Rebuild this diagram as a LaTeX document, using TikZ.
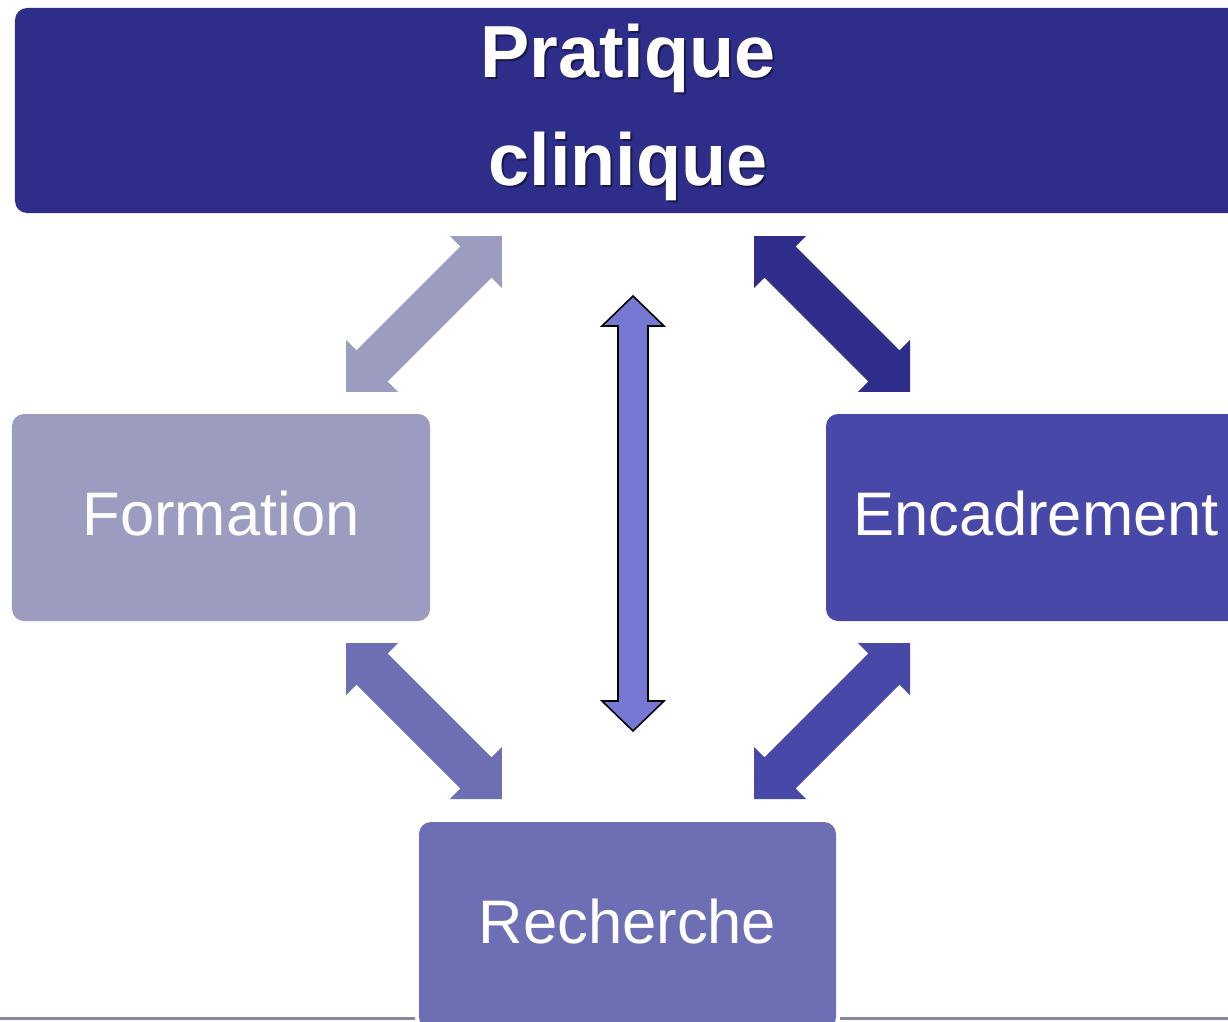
\documentclass[tikz,border=0pt]{standalone}
\usepackage{fontspec}
\setmainfont{Liberation Sans}
\definecolor{pratcol}{HTML}{2E2E8A}
\definecolor{formcol}{HTML}{9C9CC0}
\definecolor{encacol}{HTML}{4848A8}
\definecolor{rechcol}{HTML}{6E6EB4}
\definecolor{midcol}{HTML}{7777D4}
\definecolor{rulecol}{HTML}{868A98}
% block arrow with two heads: centre, angle, half length, head half width, head length, shaft half width, style
\newcommand{\blockarrow}[7]{%
  \begin{scope}[shift={#1}, rotate=#2]
    \path[#7] (-#3,0) -- (-#3+#5,#4) -- (-#3+#5,#6) -- (#3-#5,#6) -- (#3-#5,#4) -- (#3,0)
      -- (#3-#5,-#4) -- (#3-#5,-#6) -- (-#3+#5,-#6) -- (-#3+#5,-#4) -- cycle;
  \end{scope}}
\tikzset{
  box/.style={rectangle, rounded corners=0.24cm, inner sep=0pt, text=white,
    font=\fontsize{35}{40}\selectfont, text height=0.88cm, text depth=0.16cm},
  titletext/.style={align=center, inner sep=0pt, text=white,
    font=\fontsize{42}{61}\selectfont\bfseries},
}
\begin{document}
\begin{tikzpicture}
  \useasboundingbox (0,0) rectangle (24.56,-20.44);
  {
  % Drawing bottom rule
  \coordinate (ruleL) at (0,-20.37);
  \coordinate (ruleR) at (24.56,-20.37);

  % Drawing box Pratique clinique
  \node[box, fill=pratcol, minimum width=24.52cm, minimum height=4.10cm] (prat) at (12.56,-2.21) {};
  \node[titletext, text=black, opacity=0.45] (pratshadow) at ([shift={(0.04,-0.08)}]prat.center) {Pratique\\clinique};
  \node[titletext] (prattitle) at ([yshift=-0.04cm]prat.center) {Pratique\\clinique};

  % Drawing boxes Formation, Encadrement, Recherche
  \node[box, fill=formcol, minimum width=8.36cm, minimum height=4.14cm] (form) at (4.42,-10.35) {Formation};
  \node[box, fill=encacol, minimum width=8.40cm, minimum height=4.14cm] (enca) at (20.72,-10.35) {Encadrement};
  \node[box, fill=rechcol, minimum width=8.34cm, minimum height=4.14cm] (rech) at (12.55,-18.51) {Recherche};

  % Drawing rule on both sides of Recherche
  \draw[rulecol, line width=0.045cm] (ruleL) -- ([xshift=-0.08cm]rech.west |- ruleL);
  \draw[rulecol, line width=0.045cm] ([xshift=0.08cm]rech.east |- ruleR) -- (ruleR);

  % Drawing diagonal arrows
  \blockarrow{(8.48,-6.28)}{45}{2.206}{0.736}{0.736}{0.44}{fill=formcol}
  \blockarrow{(16.64,-6.28)}{-45}{2.206}{0.736}{0.736}{0.44}{fill=pratcol}
  \blockarrow{(8.48,-14.42)}{-45}{2.206}{0.736}{0.736}{0.44}{fill=rechcol}
  \blockarrow{(16.64,-14.42)}{45}{2.206}{0.736}{0.736}{0.44}{fill=encacol}

  % Drawing middle arrow
  \blockarrow{(12.66,-10.27)}{90}{4.35}{0.62}{0.60}{0.30}{fill=midcol, draw=black, line width=0.9pt}
  }
\end{tikzpicture}
\end{document}
